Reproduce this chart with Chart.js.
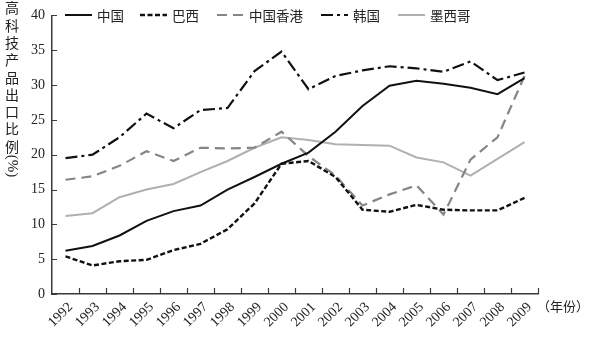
<!DOCTYPE html>
<html lang="zh">
<head>
<meta charset="utf-8">
<title>高科技产品出口比例</title>
<script src="https://cdn.jsdelivr.net/npm/chart.js@4.4.0/dist/chart.umd.min.js"></script>
<style>
    html, body { margin: 0; padding: 0; background: #fff; }
    #wrap { width: 591px; height: 337px; position: relative; }
</style>
</head>
<body>
<div id="wrap"><canvas id="exportChart"></canvas></div>
<script>
// data (%)
const years = ['1992', '1993', '1994', '1995', '1996', '1997', '1998', '1999', '2000',
    '2001', '2002', '2003', '2004', '2005', '2006', '2007', '2008', '2009'];
const china     = [6.2, 6.9, 8.4, 10.5, 11.9, 12.7, 15.0, 16.8, 18.7, 20.3, 23.3, 27.0, 29.9, 30.6, 30.2, 29.6, 28.7, 31.0];
const brazil    = [5.4, 4.1, 4.7, 4.9, 6.3, 7.2, 9.3, 13.0, 18.7, 19.1, 16.8, 12.1, 11.8, 12.8, 12.1, 12.0, 12.0, 13.8];
const hongKong  = [16.4, 16.9, 18.4, 20.5, 19.1, 21.0, 20.9, 21.0, 23.3, 19.8, 17.0, 12.7, 14.3, 15.6, 11.4, 19.3, 22.5, 31.3];
const korea     = [19.5, 20.0, 22.5, 25.9, 23.8, 26.4, 26.7, 32.0, 34.8, 29.4, 31.3, 32.1, 32.7, 32.4, 31.9, 33.4, 30.7, 31.8];
const mexico    = [11.2, 11.6, 13.9, 15.0, 15.8, 17.5, 19.1, 21.0, 22.5, 22.1, 21.5, 21.4, 21.3, 19.6, 18.9, 17.0, 19.4, 21.8];
const yTicks    = [0, 5, 10, 15, 20, 25, 30, 35, 40];

const yTitle = '高科技产品出口比例';
const xUnit = '（年份）';

const axisColor = '#3a3a3a';
const numFont = "'Liberation Serif', 'Times New Roman', serif";
const cjkFont = "'Noto Sans CJK SC', 'Liberation Serif', serif";

function series(label, data, color, dash, width) {
    return {
        label: label,
        data: data,
        borderColor: color,
        backgroundColor: color,
        borderWidth: width,
        borderDash: dash,
        pointRadius: 0,
        tension: 0,
        fill: false
    };
}

// legend, inner tick marks and the axis titles are drawn by hand
const decorPlugin = {
    id: 'decor',
    afterDraw(chart) {
        const { ctx, chartArea, scales } = chart;
        const xs = scales.x, ys = scales.y;
        ctx.save();

        // tick marks pointing into the plot
        ctx.strokeStyle = axisColor;
        ctx.lineWidth = 1.2;
        ctx.setLineDash([]);
        ctx.beginPath();
        yTicks.forEach(v => {
            const py = Math.round(ys.getPixelForValue(v)) + 0.5;
            ctx.moveTo(chartArea.left, py);
            ctx.lineTo(chartArea.left + 5, py);
        });
        for (let i = 0; i < years.length; i++) {
            const px = Math.round(xs.getPixelForValue(i + 0.5)) + 0.5;
            ctx.moveTo(px, chartArea.bottom);
            ctx.lineTo(px, chartArea.bottom - 6);
        }
        ctx.stroke();

        // legend across the top
        const legendX = [65, 140, 217, 321, 398];
        const legendY = 15;
        ctx.font = '13.5px ' + cjkFont;
        ctx.textBaseline = 'middle';
        ctx.textAlign = 'left';
        chart.data.datasets.forEach((ds, i) => {
            const x0 = legendX[i];
            ctx.strokeStyle = ds.borderColor;
            ctx.lineWidth = ds.borderWidth;
            ctx.setLineDash(ds.borderDash || []);
            ctx.beginPath();
            ctx.moveTo(x0, legendY);
            ctx.lineTo(x0 + 27, legendY);
            ctx.stroke();
            ctx.setLineDash([]);
            ctx.fillStyle = '#222';
            ctx.fillText(ds.label, x0 + 32, legendY + 1);
        });

        // vertical y title, one character per line
        ctx.fillStyle = '#222';
        ctx.font = '14px ' + cjkFont;
        ctx.textAlign = 'center';
        const chars = Array.from(yTitle);
        chars.forEach((c, i) => {
            ctx.fillText(c, 12, 8 + i * 17.3);
        });
        ctx.save();
        ctx.translate(12, 166);
        ctx.rotate(Math.PI / 2);
        ctx.font = '15px ' + numFont;
        ctx.fillText('(%)', 0, 0);
        ctx.restore();

        // unit after the last year label
        ctx.font = '13px ' + cjkFont;
        ctx.textAlign = 'left';
        ctx.fillText(xUnit, 537, 306);

        ctx.restore();
    }
};

const ctx = document.getElementById('exportChart').getContext('2d');
const chart = new Chart(ctx, {
    type: 'line',
    data: {
        labels: years,
        datasets: [
            series('中国', china, '#111111', [], 2),
            series('巴西', brazil, '#111111', [5, 2.5], 2.4),
            series('中国香港', hongKong, '#858585', [10, 6], 2.2),
            series('韩国', korea, '#111111', [12, 4, 3, 4], 2.2),
            series('墨西哥', mexico, '#b0b0b0', [], 2)
        ]
    },
    options: {
        responsive: true,
        maintainAspectRatio: false,
        animation: false,
        layout: {
            padding: { top: 14, right: 53, left: 0, bottom: 0 }
        },
        plugins: {
            legend: { display: false },
            title: { display: false },
            tooltip: { enabled: false }
        },
        scales: {
            x: {
                type: 'category',
                offset: true,
                grid: { display: true, drawOnChartArea: false, drawTicks: false, offset: true },
                border: { display: true, color: axisColor, width: 1.5 },
                ticks: {
                    autoSkip: false,
                    minRotation: 45,
                    maxRotation: 45,
                    padding: 5,
                    labelOffset: 5,
                    color: '#222',
                    font: { family: numFont, size: 14 }
                },
                afterFit(scale) {
                    scale.height = 43;
                }
            },
            y: {
                min: 0,
                max: 40,
                grid: { display: true, drawOnChartArea: false, drawTicks: false },
                border: { display: true, color: axisColor, width: 1.5 },
                ticks: {
                    stepSize: 5,
                    padding: 7,
                    color: '#222',
                    font: { family: numFont, size: 14 }
                },
                afterFit(scale) {
                    scale.width = 52;
                }
            }
        }
    },
    plugins: [decorPlugin]
});
</script>
</body>
</html>
